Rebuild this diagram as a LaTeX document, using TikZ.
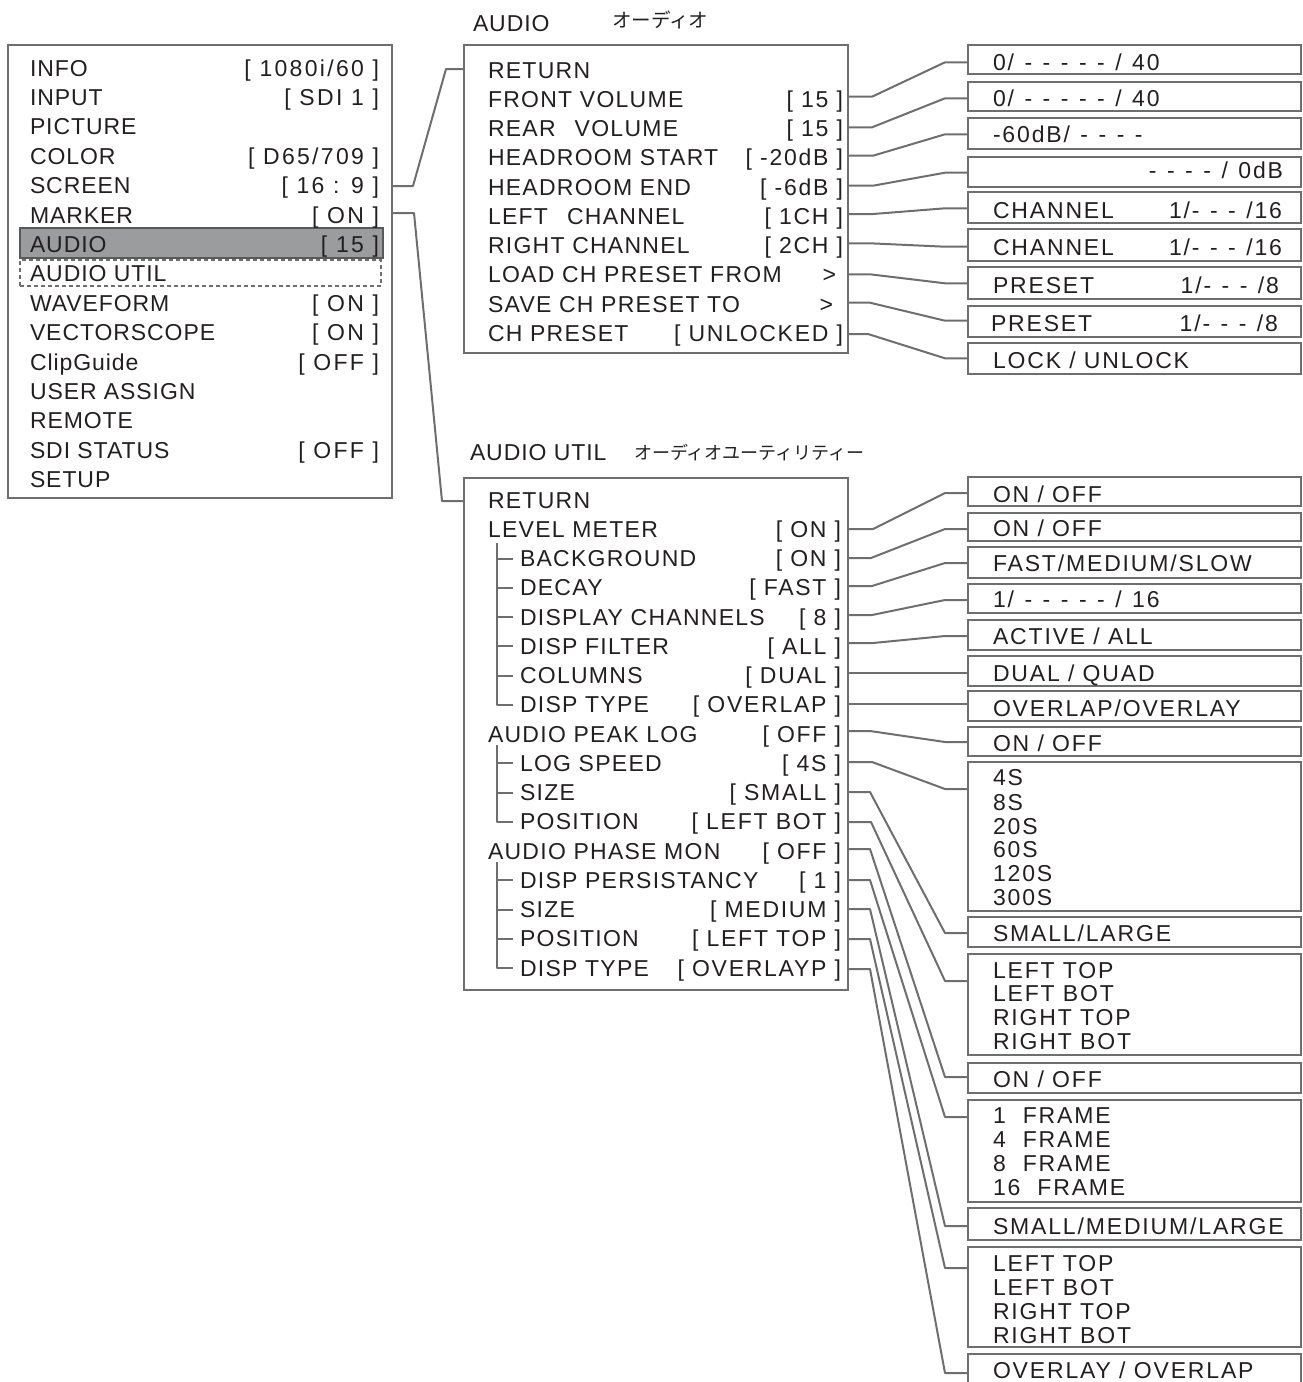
\documentclass[tikz,border=0pt]{standalone}
\usepackage{fontspec}
\setmainfont{Liberation Sans}[LetterSpace=4]
\newfontfamily\menufont{Liberation Sans}[LetterSpace=5.5]
\newfontfamily\valfont{Liberation Sans}[LetterSpace=10]
\newfontfamily\subvalfont{Liberation Sans}[LetterSpace=7.5]
\newfontfamily\optfont{Liberation Sans}[LetterSpace=8]
\newfontfamily\jpfont{Noto Sans CJK JP}
\newcommand\dsp{\hspace{10.5pt}}
\definecolor{ln}{HTML}{6D6E70}
\definecolor{tx}{HTML}{231F20}
\definecolor{hlf}{HTML}{9B9C9E}
\definecolor{hlb}{HTML}{58595B}
\begin{document}
\begin{tikzpicture}[x=1pt,y=-1pt,
  every node/.style={inner sep=0pt, outer sep=0pt, text=tx},
  lbl/.style={font=\fontsize{23}{27}\selectfont, anchor=base west},
  val/.style={font=\valfont\fontsize{23}{27}\selectfont, anchor=base east},
  mlbl/.style={font=\menufont\fontsize{23}{27}\selectfont, anchor=base west},
  mval/.style={font=\subvalfont\fontsize{23}{27}\selectfont, anchor=base east},
  opt/.style={font=\optfont\fontsize{23}{27}\selectfont, anchor=base west},
  optr/.style={font=\optfont\fontsize{23}{27}\selectfont, anchor=base east},
  jp/.style={font=\jpfont\fontsize{18}{20}\selectfont, anchor=base west},
  frame/.style={draw=ln, line width=2pt, minimum width=384pt, anchor=north west},
  optbox/.style={draw=ln, line width=2pt, minimum width=333pt, anchor=north west},
  link/.style={draw=ln, line width=2pt, line join=round}
]
\useasboundingbox (0,0) rectangle (1302,1382);

% ---------------- main menu ----------------
\node[frame, minimum height=453pt] (mainmenu) at (8,45) {};
\node[draw=hlb, fill=hlf, line width=1.5pt, minimum width=363pt, minimum height=30pt, anchor=north west] (hl) at (20,228) {};
\node[draw=ln, dashed, dash pattern=on 4pt off 3pt, line width=1.5pt, minimum width=361pt, minimum height=26pt, anchor=north west] (dsel) at (20,260) {};
\foreach \lab/\val [count=\i from 0] in {INFO/{[ 1080i/60 ]}, INPUT/{[ SDI 1 ]}, PICTURE/{}, COLOR/{[ D65/709 ]}, SCREEN/{[ 16 : 9 ]}, MARKER/{[ ON ]}, AUDIO/{[ 15 ]}, AUDIO UTIL/{}, WAVEFORM/{[ ON ]}, VECTORSCOPE/{[ ON ]}, ClipGuide/{[ OFF ]}, USER ASSIGN/{}, REMOTE/{}, SDI STATUS/{[ OFF ]}, SETUP/{}}
{
  \node[lbl] (ml\i) at (30,{76+29.4*\i}) {\lab};
  \node[val] (mv\i) at (379,{76+29.4*\i}) {\val};
}

% ---------------- AUDIO menu ----------------
\node[lbl] (tAudio) at (473,31) {AUDIO};
\node[jp, font=\jpfont\fontsize{19.5}{22}\selectfont] (jAudio) at (612,27) {オーディオ};
\node[frame, minimum height=308pt] (audiobox) at (464,45) {};
\foreach \lab/\val [count=\i from 0] in {RETURN/{}, FRONT VOLUME/{[ 15 ]}, REAR\hspace{19pt}VOLUME/{[ 15 ]}, HEADROOM START/{[ -20dB ]}, HEADROOM END/{[ -6dB ]}, LEFT\hspace{19pt}CHANNEL/{[ 1CH ]}, RIGHT CHANNEL/{[ 2CH ]}, LOAD CH PRESET FROM/{}, SAVE CH PRESET TO/{}, CH PRESET/{[ UNLOCKED ]}}
{
  \node[mlbl] (al\i) at (488,{78+29.26*\i}) {\lab};
  \node[mval] (av\i) at (843,{78+29.26*\i}) {\val};
}
\node[mval] (av7b) at (836,{78+29.26*7}) {>};
\node[mval] (av8b) at (833,{78+29.26*8}) {>};

% ---------------- AUDIO UTIL menu ----------------
\node[lbl] (tUtil) at (470,460) {AUDIO UTIL};
\node[jp] (jUtil) at (634,459) {オーディオユーティリティー};
\node[frame, minimum height=512pt] (utilbox) at (464,478) {};
\foreach \x/\lab/\val [count=\i from 0] in {488/RETURN/{}, 488/LEVEL METER/{[ ON ]}, 520/BACKGROUND/{[ ON ]}, 520/DECAY/{[ FAST ]}, 520/DISPLAY CHANNELS/{[ 8 ]}, 520/DISP FILTER/{[ ALL ]}, 520/COLUMNS/{[ DUAL ]}, 520/DISP TYPE/{[ OVERLAP ]}, 488/AUDIO PEAK LOG/{[ OFF ]}, 520/LOG SPEED/{[ 4S ]}, 520/SIZE/{[ SMALL ]}, 520/POSITION/{[ LEFT BOT ]}, 488/AUDIO PHASE MON/{[ OFF ]}, 520/DISP PERSISTANCY/{[ 1 ]}, 520/SIZE/{[ MEDIUM ]}, 520/POSITION/{[ LEFT TOP ]}, 520/DISP TYPE/{[ OVERLAYP ]}}
{
  \node[mlbl] (ul\i) at (\x,{508+29.25*\i}) {\lab};
  \node[mval] (uv\i) at (841,{508+29.25*\i}) {\val};
}
% tree lines
\draw[link] (497,543) -- (497,704.75) -- (513,704.75);
\foreach \i in {2,...,6} {\draw[link] (497,{500+29.25*\i}) -- (513,{500+29.25*\i});}
\draw[link] (497,745) -- (497,821.75) -- (513,821.75);
\foreach \i in {9,10} {\draw[link] (497,{500+29.25*\i}) -- (513,{500+29.25*\i});}
\draw[link] (497,862) -- (497,968) -- (513,968);
\foreach \i in {13,14,15} {\draw[link] (497,{500+29.25*\i}) -- (513,{500+29.25*\i});}

% ---------------- main -> submenus ----------------
\coordinate (sScreen) at (392,186);
\coordinate (tAudioIn) at (464,69);
\draw[link] (sScreen) -- (413,186) -- (446,69) -- (tAudioIn);
\coordinate (sMarker) at (392,213);
\coordinate (tUtilIn) at (464,501);
\draw[link] (sMarker) -- (414,213) -- (442,501) -- (tUtilIn);

% ---------------- AUDIO option boxes ----------------
\foreach \top/\h [count=\k] in {45/29, 82/29, 118/31, 157/30, 192/31, 229/32, 267/32, 306/31, 343/31}
{ \node[optbox, minimum height=\h pt] (ra\k) at (968,\top) {}; }
\node[opt] (oa1) at (993,70) {0/\dsp-\dsp-\dsp-\dsp-\dsp-\dsp/\dsp40};
\node[opt] (oa2) at (993,106) {0/\dsp-\dsp-\dsp-\dsp-\dsp-\dsp/\dsp40};
\node[opt] (oa3) at (993,142) {-60dB/\dsp-\dsp-\dsp-\dsp-};
\node[optr] (oa4) at (1283,178) {-\dsp-\dsp-\dsp-\dsp/\dsp0dB};
\node[opt] (oa5) at (993,218) {CHANNEL};
\node[optr] (oa5b) at (1282,218) {1/-\dsp-\dsp-\dsp/16};
\node[opt] (oa6) at (993,255) {CHANNEL};
\node[optr] (oa6b) at (1282,255) {1/-\dsp-\dsp-\dsp/16};
\node[opt] (oa7) at (993,293) {PRESET};
\node[optr] (oa7b) at (1279,293) {1/-\dsp-\dsp-\dsp/8};
\node[opt] (oa8) at (991,331) {PRESET};
\node[optr] (oa8b) at (1278,331) {1/-\dsp-\dsp-\dsp/8};
\node[opt] (oa9) at (993,368) {LOCK / UNLOCK};

\foreach \s/\b/\t [count=\k] in {96.7/872/62.3, 127.3/872/98.3, 155.7/873/134.3, 185.7/873/172.7, 214/873/208.3, 243.3/870/246.7, 274.3/870/283.3, 302.7/870/320.7, 334/868/358.3}
{
  \coordinate (sa\k) at (848,\s);
  \coordinate (ta\k) at (968,\t);
  \draw[link] (sa\k) -- (\b,\s) -- ([xshift=-23pt]ta\k) -- (ta\k);
}

% ---------------- AUDIO UTIL option boxes ----------------
\foreach \top/\h [count=\k] in {477/29, 513/28, 547/31, 584/29, 620/30, 656/30, 691/30, 727/29, 762/149, 917/30, 954/101, 1063/30, 1100/102, 1208/32, 1247/100, 1354/50}
{ \node[optbox, minimum height=\h pt] (u\k) at (968,\top) {}; }
\node[opt] (ou1) at (993,502) {ON / OFF};
\node[opt] (ou2) at (993,536) {ON / OFF};
\node[opt] (ou3) at (993,571) {FAST/MEDIUM/SLOW};
\node[opt] (ou4) at (993,607) {1/\dsp-\dsp-\dsp-\dsp-\dsp-\dsp/\dsp16};
\node[opt] (ou5) at (993,644) {ACTIVE / ALL};
\node[opt] (ou6) at (993,681) {DUAL / QUAD};
\node[opt] (ou7) at (993,716) {OVERLAP/OVERLAY};
\node[opt] (ou8) at (993,751) {ON / OFF};
\foreach \t/\y [count=\j] in {4S/785, 8S/810, 20S/834, 60S/857, 120S/881, 300S/905}
{ \node[opt] (ou9l\j) at (993,\y) {\t}; }
\node[opt] (ou10) at (993,941) {SMALL/LARGE};
\foreach \t/\y [count=\j] in {LEFT TOP/978, LEFT BOT/1001, RIGHT TOP/1025, RIGHT BOT/1049}
{ \node[opt] (ou11l\j) at (993,\y) {\t}; }
\node[opt] (ou12) at (993,1087) {ON / OFF};
\foreach \t/\y [count=\j] in {1/1123, 4/1147, 8/1171, 16/1195}
{ \node[opt] (ou13l\j) at (993,\y) {\t\hspace{17pt}FRAME}; }
\node[opt] (ou14) at (993,1234) {SMALL/MEDIUM/LARGE};
\foreach \t/\y [count=\j] in {LEFT TOP/1271, LEFT BOT/1295, RIGHT TOP/1319, RIGHT BOT/1343}
{ \node[opt] (ou15l\j) at (993,\y) {\t}; }
\node[opt] (ou16) at (993,1378) {OVERLAY / OVERLAP};

\foreach \s/\b/\t [count=\k] in {529/873/493, 558/871/529, 586/872/563, 615/872/600, 643/873/636, 673/873/673, 704/873/704, 731/870/742, 762/872/789, 792/870/933, 822/871/981, 849/870/1077, 880/870/1117, 909/870/1226, 939/870/1268, 969/870/1373}
{
  \coordinate (su\k) at (848,\s);
  \coordinate (tu\k) at (968,\t);
  \draw[link] (su\k) -- (\b,\s) -- ([xshift=-23pt]tu\k) -- (tu\k);
}
\end{tikzpicture}
\end{document}
